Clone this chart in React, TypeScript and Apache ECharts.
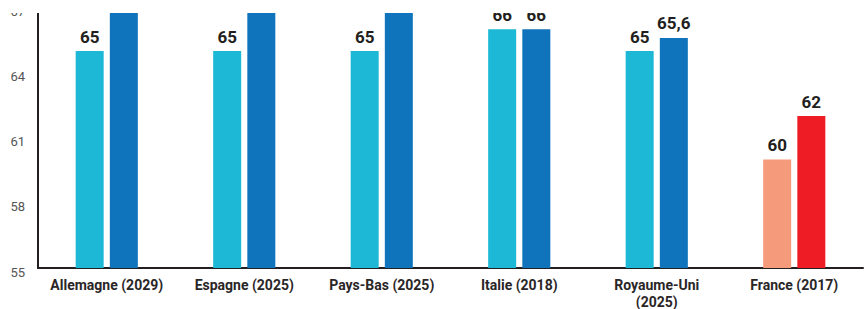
import React, { useEffect, useRef } from "react";
import * as echarts from "echarts";

const categories = [
  "Allemagne (2029)",
  "Espagne (2025)",
  "Pays-Bas (2025)",
  "Italie (2018)",
  "Royaume-Uni\n(2025)",
  "France (2017)",
];
const firstValues = [65, 65, 65, 66, 65, 60];
const secondValues = [67, 67, 67, 66, 65.6, 62];
const firstColors = ["#1cb8d5", "#1cb8d5", "#1cb8d5", "#1cb8d5", "#1cb8d5", "#f59a7b"];
const secondColors = ["#0f74bb", "#0f74bb", "#0f74bb", "#0f74bb", "#0f74bb", "#ee1d25"];
const yMin = 55;
const yMax = 67;
const yStep = 3;

const fmt = (v: number) => String(v).replace(".", ",");

export default function App() {
  const ref = useRef<HTMLDivElement>(null);
  useEffect(() => {
    document.body.style.margin = "0";
    if (!ref.current) return;
    const chart = echarts.init(ref.current, null, { renderer: "svg" });
    const labelStyle = {
      show: true,
      position: "top" as const,
      distance: 6,
      fontFamily: "Roboto",
      fontWeight: "bold" as const,
      fontSize: 17,
      color: "#231f20",
      formatter: (p: any) => fmt(p.value),
    };
    const toData = (vals: number[], colors: string[]) =>
      vals.map((v, i) => ({
        value: v,
        itemStyle: { color: colors[i] },
        label: { show: v < yMax },
      }));
    chart.setOption({
      animation: false,
      grid: {
        left: 38,
        right: 5,
        top: 7.6,
        bottom: 41,
        containLabel: false,
        outerBoundsMode: "none",
      },
      xAxis: {
        type: "category",
        data: categories,
        axisLine: { show: true, lineStyle: { color: "#231f20", width: 2 } },
        axisTick: { show: false },
        axisLabel: {
          interval: 0,
          margin: 8,
          fontFamily: "Roboto",
          fontWeight: "bold",
          fontSize: 14,
          lineHeight: 17,
          color: "#2a2627",
        },
      },
      yAxis: {
        type: "value",
        min: yMin,
        max: yMax,
        interval: yStep,
        axisLine: { show: true, lineStyle: { color: "#231f20", width: 2 } },
        axisTick: { show: false },
        splitLine: { show: false },
        axisLabel: {
          margin: 13,
          fontFamily: "Roboto",
          fontSize: 13,
          color: "#555",
          verticalAlign: "top",
          lineHeight: 8,
        },
      },
      series: [
        {
          type: "bar",
          barWidth: 28,
          barGap: "22%",
          data: toData(firstValues, firstColors),
          label: labelStyle,
        },
        {
          type: "bar",
          barWidth: 28,
          data: toData(secondValues, secondColors),
          label: labelStyle,
        },
      ],
      graphic: [
        {
          type: "rect",
          left: 0,
          top: 0,
          z: 1000,
          shape: { x: 0, y: 0, width: 868, height: 13 },
          style: { fill: "#ffffff" },
        },
      ],
    });
    return () => chart.dispose();
  }, []);
  return <div ref={ref} style={{ width: 868, height: 309 }} />;
}
